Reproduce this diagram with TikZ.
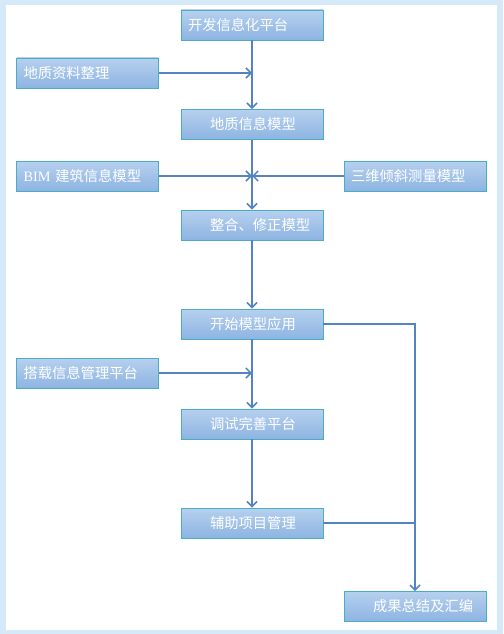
\documentclass[tikz,border=0pt]{standalone}
\usepackage{fontspec}
\setmainfont{Noto Sans CJK SC}
\newfontfamily\latinserif{Liberation Serif}
\usepackage{tikz}
\usetikzlibrary{arrows.meta,positioning,calc}
\definecolor{FrameBlue}{RGB}{214,233,248}
\definecolor{BoxTop}{RGB}{182,208,238}
\definecolor{BoxBottom}{RGB}{141,180,226}
\definecolor{BoxEdge}{RGB}{75,172,198}
\definecolor{FlowBlue}{RGB}{84,131,196}

\begin{document}
\begin{tikzpicture}[
  x=1pt, y=-1pt,
  stage/.style={
    draw=BoxEdge,
    top color=BoxTop,
    bottom color=BoxBottom,
    line width=0.9pt,
    minimum height=30pt,
    text width=128pt,
    inner xsep=7pt,
    align=left,
    text=white,
    font=\fontsize{14.3}{16}\selectfont
  },
  midstage/.style={stage, execute at begin node={\hspace*{22pt}}},
  flow/.style={draw=FlowBlue, line width=1.5pt},
  feed/.style={flow, -{Straight Barb[length=5pt,width=10pt,line width=1.5pt]}}
]
% Frame
\fill[FrameBlue] (0,0) rectangle (503,634);
\fill[white] (6,5) rectangle (497,630);

% Main chain
\node[stage]    (platformdev) at (252,25)    {开发信息化平台};
\node[midstage] (geomodel)    at (252,124.5) {地质信息模型};
\node[midstage] (merge)       at (252,225)   {整合、修正模型};
\node[midstage] (apply)       at (252,324)   {开始模型应用};
\node[midstage] (debug)       at (252,424)   {调试完善平台};
\node[midstage] (assist)      at (252,523)   {辅助项目管理};

% Inputs
\node[stage] (geodata)  at (87.5,73)  {地质资料整理};
\node[stage] (bim)      at (87.5,176) {{\latinserif BIM} 建筑信息模型};
\node[stage] (oblique)  at (415,176)  {三维倾斜测量模型};
\node[stage] (mgmt)     at (87.5,373) {搭载信息管理平台};

% Output
\node[midstage] (summary) at (415,606.5) {成果总结及汇编};

\draw[feed] (platformdev.south) -- (geomodel.north);
\draw[feed] (geodata.east) -- (geodata.east -| platformdev.south);
\draw[feed] (geomodel.south) -- (merge.north);
\draw[feed] (bim.east) -- (bim.east -| merge.north);
\draw[feed] (oblique.west) -- (oblique.west -| merge.north);
\draw[feed] (merge.south) -- (apply.north);
\draw[feed] (apply.south) -- (debug.north);
\draw[feed] (mgmt.east) -- (mgmt.east -| debug.north);
\draw[feed] (debug.south) -- (assist.north);
\draw[feed] (apply.east) -- (apply.east -| summary.north) -- (summary.north);
\draw[flow] (assist.east) -- (assist.east -| summary.north);
\end{tikzpicture}
\end{document}
